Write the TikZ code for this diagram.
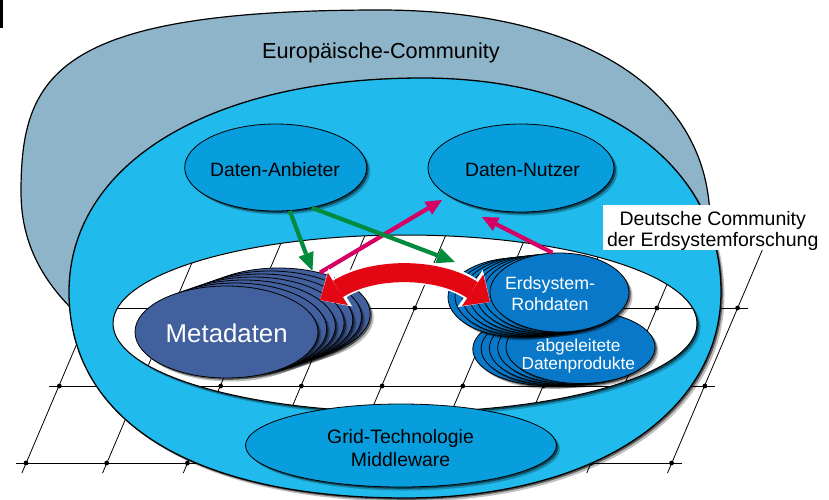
\documentclass[tikz,border=0pt]{standalone}
\usepackage{fontspec}
\setmainfont{Liberation Sans}
\usetikzlibrary{shapes.geometric,arrows.meta,shadows}
\definecolor{greyC}{RGB}{141,180,200}
\definecolor{lblue}{RGB}{32,186,236}
\definecolor{dblue}{RGB}{8,157,221}
\definecolor{mblue}{RGB}{66,96,158}
\definecolor{eblue}{RGB}{10,120,200}
\definecolor{redC}{RGB}{227,6,19}
\definecolor{greenC}{RGB}{0,140,60}
\definecolor{magC}{RGB}{214,0,100}
\newcommand{\drawgridlines}{%
  \foreach \yy/\xx in {308/92,386/59.3,463/26}{%
    \draw[gridline] ({\xx-10},\yy) -- ({\xx+655.6},\yy);
    \foreach \k in {0,...,8}{\fill ({\xx+80.7*\k},\yy) circle[radius=2.4pt];}
  }%
  \foreach \k in {0,...,8}{\draw[gridline] ({127.3+80.7*\k},225) -- ({21.9+80.7*\k},473);}%
}
\begin{document}
\begin{tikzpicture}[x=1pt,y=-1pt,
  shad/.style={drop shadow={shadow xshift=3.5pt,shadow yshift=-3.5pt,fill=black,opacity=0.25},
               drop shadow={shadow xshift=1.8pt,shadow yshift=-1.8pt,fill=black,opacity=0.5}},
  ell/.style={ellipse,draw=black,line width=0.8pt,inner sep=0pt},
  gridline/.style={draw=black,line width=0.8pt},
  lbl/.style={inner sep=0pt,align=center},
  grn/.style={draw=greenC,line width=4.2pt,-{Triangle[length=18pt,width=16pt,line width=0pt]}},
  mag/.style={draw=magC,line width=4.2pt,-{Triangle[length=16pt,width=15pt,line width=0pt]}},
  redarrow/.style={draw=redC,line width=19pt,
     {Triangle[length=21pt,width=38pt,line width=0pt]}-{Triangle[length=21pt,width=38pt,line width=0pt]}},
  redback/.style={draw=white,line width=23pt,
     {Triangle[length=24pt,width=45pt,line width=0pt]}-{Triangle[length=24pt,width=45pt,line width=0pt]}}
]
\useasboundingbox (0,0) rectangle (829,499);
\fill[white] (0,0) rectangle (829,499);
\fill[black] (0,0) rectangle (2.5,28);

% background grid
\drawgridlines

% European community
\path[fill=greyC,draw=black,line width=1.2pt]
  (21,192) .. controls (21,73.7) and (57,10) .. (380,10)
  .. controls (586,10) and (710,92) .. (710,222)
  -- (690,280) -- (400,300) -- (75,312)
  .. controls (40,278) and (21,240) .. (21,192) -- cycle;

% German community
\path[shad,fill=lblue,draw=black,line width=1.3pt]
  (69,292) .. controls (69,163.6) and (210.2,78) .. (422,78)
  .. controls (601.4,78) and (721,163.6) .. (721,292)
  .. controls (721,412) and (595,498) .. (405,498)
  .. controls (195,498) and (69,422) .. (69,292) -- cycle;

% data pool
\path[shad,fill=white] (405,323.5) ellipse[x radius=292, y radius=88.5];
\begin{scope}
  \clip (405,323.5) ellipse[x radius=292, y radius=88.5];
  \drawgridlines
\end{scope}
\draw[black,line width=1pt] (405,323.5) ellipse[x radius=292, y radius=88.5];

% providers / users
\node[ell,shad,fill=dblue,minimum width=182pt,minimum height=87pt] (anb) at (275.7,167.5) {};
\node[lbl,font=\fontsize{19.3}{23}\selectfont] (anbT) at (275,170) {Daten-Anbieter};
\node[ell,shad,fill=dblue,minimum width=186pt,minimum height=88pt] (nut) at (521,168) {};
\node[lbl,font=\fontsize{19.3}{23}\selectfont] (nutT) at (522.5,169.5) {Daten-Nutzer};

% Metadaten stack
\foreach \k in {6,5,...,1}{\node[ell,shad,fill=mblue,minimum width=183pt,minimum height=92pt] (meta\k) at ({226.5+8.7*\k},{332-3*\k}) {};}
\node[ell,shad,fill=mblue,minimum width=183pt,minimum height=92pt] (meta) at (226.5,332) {};
\node[lbl,text=white,font=\fontsize{25.8}{30}\selectfont] (metaT) at (226.7,333.3) {Metadaten};

% abgeleitete Datenprodukte stack
\foreach \k in {4,3,2,1}{\node[ell,shad,fill=eblue,minimum width=149pt,minimum height=72.6pt] (abg\k) at ({580.5-8.3*\k},{347.2+0.5*\k}) {};}
\node[ell,shad,fill=eblue,minimum width=149pt,minimum height=72.6pt] (abg) at (580.5,347.2) {};
\node[lbl,text=white,font=\fontsize{17.3}{17.3}\selectfont] (abgT) at (578.3,356) {abgeleitete\\Datenprodukte};

% Erdsystem-Rohdaten stack
\foreach \k in {6,5,...,1}{\node[ell,shad,fill=eblue,minimum width=139pt,minimum height=79pt] (ers\k) at ({559.5-7*\k},{292.5+0.8*\k}) {};}
\node[ell,shad,fill=eblue,minimum width=139pt,minimum height=79pt] (ers) at (559.5,292.5) {};
\node[lbl,text=white,font=\fontsize{17.8}{21.5}\selectfont] (ersT) at (550,293.5) {Erdsystem-\\Rohdaten};

% Grid middleware
\node[ell,shad,fill=dblue,minimum width=311pt,minimum height=83pt] (grid) at (401,445.5) {};
\node[lbl,font=\fontsize{19.4}{22.6}\selectfont] (gridT) at (400.5,448) {Grid-Technologie\\Middleware};

% connectors
\coordinate (m1t) at (442,200);
\coordinate (m2t) at (482,217);
\coordinate (g2t) at (455,262);
\coordinate (rl) at (320,300);
\coordinate (rr) at (490,302);
\draw[mag] (meta6.45) -- (m1t);
\draw[mag] (ers.100) -- (m2t);
\draw[grn] (anb.288) -- (meta6.52);
\draw[grn] (anb.312) -- (g2t);
\draw[redback] (rl) .. controls (375,266) and (440,268) .. (rr);
\draw[redarrow] (rl) .. controls (375,266) and (440,268) .. (rr);

% labels
\node[fill=white,inner sep=0pt,minimum width=218pt,minimum height=45pt] (dbox) at (711.5,227.5) {};
\node[lbl,font=\fontsize{19.5}{21.7}\selectfont] (dcomT) at (712.7,231) {Deutsche Community\\der Erdsystemforschung};
\node[lbl,font=\fontsize{21.7}{26}\selectfont] (eu) at (381,53) {Europäische-Community};
\end{tikzpicture}
\end{document}
